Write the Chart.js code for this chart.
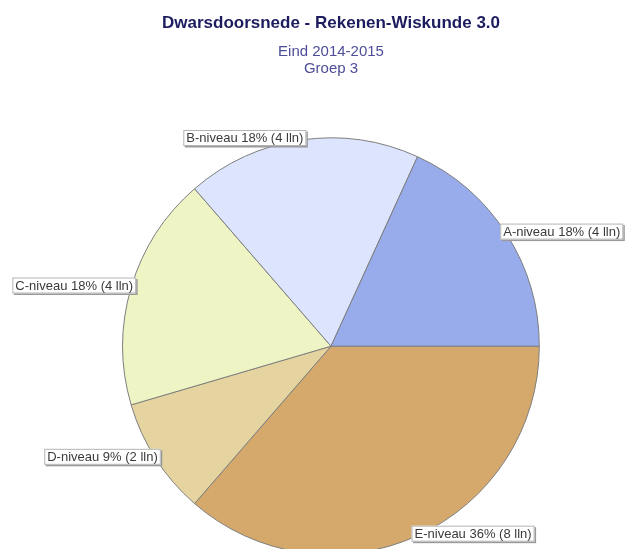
<!DOCTYPE html>
<html>
<head>
<meta charset="utf-8">
<script src="https://cdn.jsdelivr.net/npm/chart.js@4"></script>
<style>
    html, body { margin: 0; padding: 0; background: #fff; overflow: hidden; }
    .Grafico { position: relative; width: 627px; height: 600px; }
</style>
</head>
<body>
<div class="Grafico"><canvas id="NiveauTorta"></canvas></div>
<script>
// Niveaus en aantal leerlingen per niveau
const niveaus = ['A-niveau', 'B-niveau', 'C-niveau', 'D-niveau', 'E-niveau'];
const leerlingen = [4, 4, 4, 2, 8];
const kleuren = ['#98abea', '#dce5fd', '#eef4c4', '#e6d4a0', '#d5a96c'];

const titel = 'Dwarsdoorsnede - Rekenen-Wiskunde 3.0';
const subtitel = ['Eind 2014-2015', 'Groep 3'];

// Chart.js tekent met de klok mee: volgorde omdraaien zodat A tegen de klok in vanaf 3 uur begint
const labels = niveaus.slice().reverse();
const waarden = leerlingen.slice().reverse();
const achtergrond = kleuren.slice().reverse();
const totaal = leerlingen.reduce((a, b) => a + b, 0);

// Labels in witte kaders op de rand van elke sector
const randLabels = {
    id: 'randLabels',
    afterDatasetsDraw(chart) {
        const ctx = chart.ctx;
        const meta = chart.getDatasetMeta(0);
        ctx.save();
        ctx.font = '13px "Liberation Sans", Arial, sans-serif';
        ctx.textBaseline = 'middle';
        meta.data.forEach((arc, i) => {
            const { x, y, startAngle, endAngle, outerRadius } = arc.getProps(['x', 'y', 'startAngle', 'endAngle', 'outerRadius'], true);
            const mid = (startAngle + endAngle) / 2;
            const px = x + Math.cos(mid) * outerRadius;
            const py = y + Math.sin(mid) * outerRadius;
            const v = waarden[i];
            const tekst = `${labels[i]} ${Math.round(v / totaal * 100)}% (${v} lln)`;
            const w = ctx.measureText(tekst).width + 6;
            const h = 16;
            const left = Math.cos(mid) >= 0 ? px - 6 : px + 5 - w;
            const top = py - 2 - h / 2;
            // schaduw
            ctx.fillStyle = '#9a9a9a';
            ctx.fillRect(left + 1.5, top + 1.5, w, h);
            ctx.fillStyle = '#ffffff';
            ctx.fillRect(left, top, w, h);
            ctx.strokeStyle = '#b4b4b4';
            ctx.lineWidth = 1;
            ctx.strokeRect(left + 0.5, top + 0.5, w - 1, h - 1);
            ctx.fillStyle = '#3a3a3a';
            ctx.fillText(tekst, left + 3, top + h / 2 + 0.5);
        });
        ctx.restore();
    }
};

new Chart(document.getElementById('NiveauTorta').getContext('2d'), {
    type: 'pie',
    data: {
        labels: labels,
        datasets: [{
            data: waarden,
            backgroundColor: achtergrond,
            borderColor: '#7e7e7e',
            borderWidth: 1
        }]
    },
    options: {
        responsive: true,
        maintainAspectRatio: false,
        animation: false,
        rotation: 90,
        layout: { padding: { left: 35, right: 0, top: 0, bottom: 45 } },
        plugins: {
            legend: { display: false },
            tooltip: { enabled: false },
            title: {
                display: true,
                text: titel,
                color: '#1c1c5e',
                font: { family: '"Liberation Sans", Arial, sans-serif', size: 17, weight: 'bold', lineHeight: 1.2 },
                padding: { top: 13, bottom: 10 }
            },
            subtitle: {
                display: true,
                text: subtitel,
                color: '#4d4d99',
                font: { family: '"Liberation Sans", Arial, sans-serif', size: 15, lineHeight: 1.133 },
                padding: { top: 0, bottom: 60 }
            }
        }
    },
    plugins: [randLabels]
});
</script>
</body>
</html>
